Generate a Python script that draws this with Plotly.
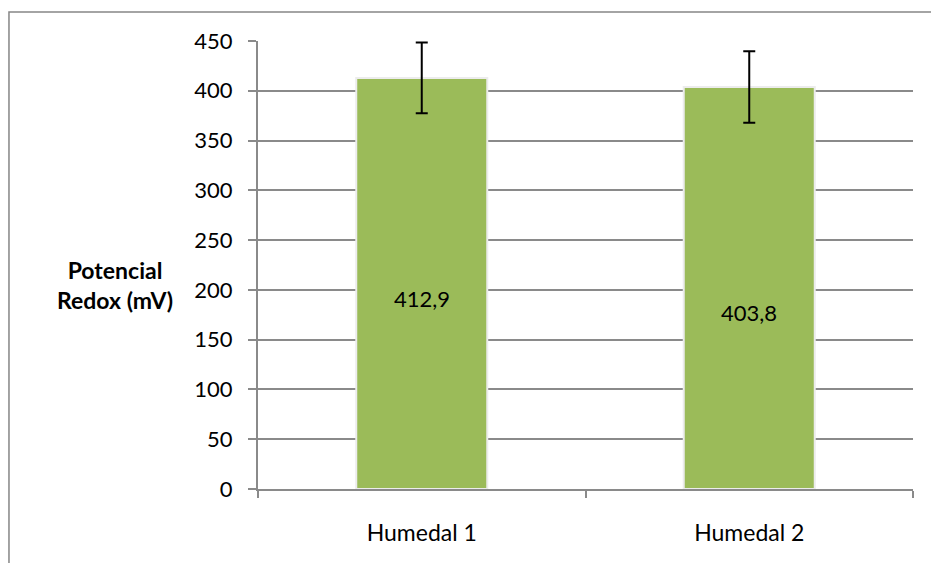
import plotly.graph_objects as go

categories = ["Humedal 1", "Humedal 2"]
values = [412.9, 403.8]
errors = [35.5, 36.0]
value_labels = ["412,9", "403,8"]
label_y = [191, 177]
y_ticks = [0, 50, 100, 150, 200, 250, 300, 350, 400, 450]

FONT = "Lato, Calibri, Carlito, sans-serif"
GRID = "#8a8a8a"

fig = go.Figure()
fig.add_trace(go.Bar(
    x=categories, y=values, width=0.4,
    marker=dict(color="#9BBB59", line=dict(color="#ececec", width=2)),
    error_y=dict(type="data", array=errors, visible=True, color="#000000",
                 thickness=2, width=6),
    hoverinfo="skip",
))

for c, t, yy in zip(categories, value_labels, label_y):
    fig.add_annotation(x=c, y=yy, text=t, showarrow=False,
                       font=dict(family=FONT, size=22, color="#000000"))

fig.add_annotation(xref="paper", yref="paper", x=-0.218, y=0.455,
                   xanchor="center", yanchor="middle",
                   text="<b>Potencial<br>Redox (mV)</b>", showarrow=False,
                   align="center", font=dict(family=FONT, size=23, color="#000000"))

# outer chart border (top and left edges visible in the crop)
fig.add_shape(type="path", xref="paper", yref="paper",
              path="M 1.05 1.0647 L -0.3802 1.0647 L -0.3802 -0.2",
              line=dict(color="#868686", width=1.5), layer="below")

fig.update_layout(
    width=931, height=563,
    margin=dict(l=258, r=18, t=41, b=74),
    paper_bgcolor="#ffffff", plot_bgcolor="#ffffff",
    showlegend=False,
    font=dict(family=FONT, size=22, color="#000000"),
    xaxis=dict(showline=True, linecolor=GRID, linewidth=2,
               ticks="outside", tickson="boundaries", ticklen=7,
               tickcolor=GRID, tickwidth=2, showgrid=False,
               tickfont=dict(family=FONT, size=23), ticklabelstandoff=22,
               fixedrange=True),
    yaxis=dict(range=[0, 450], tickvals=y_ticks, showline=True, linecolor=GRID,
               linewidth=2, ticks="outside", ticklen=8, tickcolor=GRID, tickwidth=2,
               showgrid=True, gridcolor=GRID, gridwidth=2, zeroline=False,
               tickfont=dict(family=FONT, size=22), ticklabelstandoff=11,
               fixedrange=True),
)

fig.write_html("out.html", config={"displayModeBar": False},
               post_script="document.body.style.margin='0';document.body.style.overflow='hidden';")
